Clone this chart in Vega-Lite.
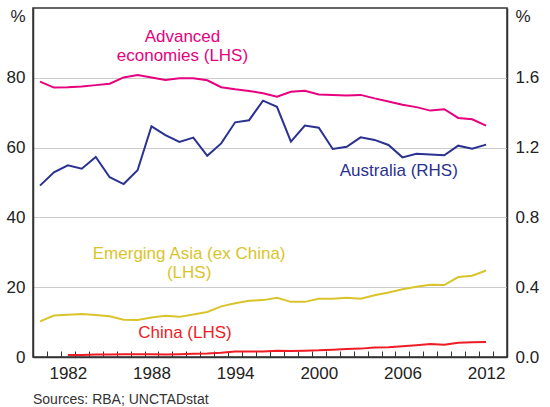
{
  "$schema": "https://vega.github.io/schema/vega-lite/v6.json",
  "width": 474,
  "height": 349,
  "autosize": {"type": "none"},
  "padding": {"left": 33, "top": 8, "right": 43, "bottom": 50},
  "background": "white",
  "config": {
    "font": "Liberation Sans",
    "view": {"stroke": "#333333", "strokeWidth": 1.5}
  },
  "title": {
    "text": "Sources: RBA; UNCTADstat",
    "orient": "bottom",
    "anchor": "start",
    "frame": "group",
    "fontSize": 14,
    "fontWeight": "normal",
    "color": "#333333",
    "offset": 12
  },
  "datasets": {
    "series": [
      {"year": 1980, "series": "Advanced economies", "value": 78.9},
      {"year": 1981, "series": "Advanced economies", "value": 77.2},
      {"year": 1982, "series": "Advanced economies", "value": 77.3},
      {"year": 1983, "series": "Advanced economies", "value": 77.5},
      {"year": 1984, "series": "Advanced economies", "value": 77.9},
      {"year": 1985, "series": "Advanced economies", "value": 78.3},
      {"year": 1986, "series": "Advanced economies", "value": 80.1},
      {"year": 1987, "series": "Advanced economies", "value": 80.8},
      {"year": 1988, "series": "Advanced economies", "value": 80.1},
      {"year": 1989, "series": "Advanced economies", "value": 79.4},
      {"year": 1990, "series": "Advanced economies", "value": 79.9},
      {"year": 1991, "series": "Advanced economies", "value": 79.9},
      {"year": 1992, "series": "Advanced economies", "value": 79.3},
      {"year": 1993, "series": "Advanced economies", "value": 77.3},
      {"year": 1994, "series": "Advanced economies", "value": 76.7},
      {"year": 1995, "series": "Advanced economies", "value": 76.2},
      {"year": 1996, "series": "Advanced economies", "value": 75.6},
      {"year": 1997, "series": "Advanced economies", "value": 74.6},
      {"year": 1998, "series": "Advanced economies", "value": 76.0},
      {"year": 1999, "series": "Advanced economies", "value": 76.3},
      {"year": 2000, "series": "Advanced economies", "value": 75.2},
      {"year": 2001, "series": "Advanced economies", "value": 75.1},
      {"year": 2002, "series": "Advanced economies", "value": 74.9},
      {"year": 2003, "series": "Advanced economies", "value": 75.1},
      {"year": 2004, "series": "Advanced economies", "value": 74.1},
      {"year": 2005, "series": "Advanced economies", "value": 73.2},
      {"year": 2006, "series": "Advanced economies", "value": 72.3},
      {"year": 2007, "series": "Advanced economies", "value": 71.6},
      {"year": 2008, "series": "Advanced economies", "value": 70.6},
      {"year": 2009, "series": "Advanced economies", "value": 71.0},
      {"year": 2010, "series": "Advanced economies", "value": 68.5},
      {"year": 2011, "series": "Advanced economies", "value": 68.1},
      {"year": 2012, "series": "Advanced economies", "value": 66.3},

      {"year": 1980, "series": "Emerging Asia (ex China)", "value": 10.2},
      {"year": 1981, "series": "Emerging Asia (ex China)", "value": 11.9},
      {"year": 1982, "series": "Emerging Asia (ex China)", "value": 12.1},
      {"year": 1983, "series": "Emerging Asia (ex China)", "value": 12.3},
      {"year": 1984, "series": "Emerging Asia (ex China)", "value": 12.0},
      {"year": 1985, "series": "Emerging Asia (ex China)", "value": 11.7},
      {"year": 1986, "series": "Emerging Asia (ex China)", "value": 10.7},
      {"year": 1987, "series": "Emerging Asia (ex China)", "value": 10.6},
      {"year": 1988, "series": "Emerging Asia (ex China)", "value": 11.3},
      {"year": 1989, "series": "Emerging Asia (ex China)", "value": 11.8},
      {"year": 1990, "series": "Emerging Asia (ex China)", "value": 11.5},
      {"year": 1991, "series": "Emerging Asia (ex China)", "value": 12.2},
      {"year": 1992, "series": "Emerging Asia (ex China)", "value": 12.9},
      {"year": 1993, "series": "Emerging Asia (ex China)", "value": 14.5},
      {"year": 1994, "series": "Emerging Asia (ex China)", "value": 15.4},
      {"year": 1995, "series": "Emerging Asia (ex China)", "value": 16.1},
      {"year": 1996, "series": "Emerging Asia (ex China)", "value": 16.3},
      {"year": 1997, "series": "Emerging Asia (ex China)", "value": 17.0},
      {"year": 1998, "series": "Emerging Asia (ex China)", "value": 15.8},
      {"year": 1999, "series": "Emerging Asia (ex China)", "value": 15.8},
      {"year": 2000, "series": "Emerging Asia (ex China)", "value": 16.7},
      {"year": 2001, "series": "Emerging Asia (ex China)", "value": 16.7},
      {"year": 2002, "series": "Emerging Asia (ex China)", "value": 17.0},
      {"year": 2003, "series": "Emerging Asia (ex China)", "value": 16.7},
      {"year": 2004, "series": "Emerging Asia (ex China)", "value": 17.7},
      {"year": 2005, "series": "Emerging Asia (ex China)", "value": 18.5},
      {"year": 2006, "series": "Emerging Asia (ex China)", "value": 19.4},
      {"year": 2007, "series": "Emerging Asia (ex China)", "value": 20.1},
      {"year": 2008, "series": "Emerging Asia (ex China)", "value": 20.7},
      {"year": 2009, "series": "Emerging Asia (ex China)", "value": 20.6},
      {"year": 2010, "series": "Emerging Asia (ex China)", "value": 22.9},
      {"year": 2011, "series": "Emerging Asia (ex China)", "value": 23.3},
      {"year": 2012, "series": "Emerging Asia (ex China)", "value": 24.8},

      {"year": 1982, "series": "China", "value": 0.6},
      {"year": 1983, "series": "China", "value": 0.6},
      {"year": 1984, "series": "China", "value": 0.7},
      {"year": 1985, "series": "China", "value": 0.7},
      {"year": 1986, "series": "China", "value": 0.8},
      {"year": 1987, "series": "China", "value": 0.8},
      {"year": 1988, "series": "China", "value": 0.8},
      {"year": 1989, "series": "China", "value": 0.7},
      {"year": 1990, "series": "China", "value": 0.8},
      {"year": 1991, "series": "China", "value": 0.9},
      {"year": 1992, "series": "China", "value": 1.0},
      {"year": 1993, "series": "China", "value": 1.2},
      {"year": 1994, "series": "China", "value": 1.6},
      {"year": 1995, "series": "China", "value": 1.6},
      {"year": 1996, "series": "China", "value": 1.6},
      {"year": 1997, "series": "China", "value": 1.8},
      {"year": 1998, "series": "China", "value": 1.7},
      {"year": 1999, "series": "China", "value": 1.8},
      {"year": 2000, "series": "China", "value": 1.9},
      {"year": 2001, "series": "China", "value": 2.1},
      {"year": 2002, "series": "China", "value": 2.3},
      {"year": 2003, "series": "China", "value": 2.4},
      {"year": 2004, "series": "China", "value": 2.7},
      {"year": 2005, "series": "China", "value": 2.8},
      {"year": 2006, "series": "China", "value": 3.1},
      {"year": 2007, "series": "China", "value": 3.4},
      {"year": 2008, "series": "China", "value": 3.7},
      {"year": 2009, "series": "China", "value": 3.5},
      {"year": 2010, "series": "China", "value": 4.1},
      {"year": 2011, "series": "China", "value": 4.2},
      {"year": 2012, "series": "China", "value": 4.3},

      {"year": 1980, "series": "Australia", "value": 0.982},
      {"year": 1981, "series": "Australia", "value": 1.058},
      {"year": 1982, "series": "Australia", "value": 1.098},
      {"year": 1983, "series": "Australia", "value": 1.079},
      {"year": 1984, "series": "Australia", "value": 1.146},
      {"year": 1985, "series": "Australia", "value": 1.030},
      {"year": 1986, "series": "Australia", "value": 0.991},
      {"year": 1987, "series": "Australia", "value": 1.070},
      {"year": 1988, "series": "Australia", "value": 1.322},
      {"year": 1989, "series": "Australia", "value": 1.272},
      {"year": 1990, "series": "Australia", "value": 1.232},
      {"year": 1991, "series": "Australia", "value": 1.257},
      {"year": 1992, "series": "Australia", "value": 1.153},
      {"year": 1993, "series": "Australia", "value": 1.224},
      {"year": 1994, "series": "Australia", "value": 1.345},
      {"year": 1995, "series": "Australia", "value": 1.357},
      {"year": 1996, "series": "Australia", "value": 1.469},
      {"year": 1997, "series": "Australia", "value": 1.434},
      {"year": 1998, "series": "Australia", "value": 1.234},
      {"year": 1999, "series": "Australia", "value": 1.326},
      {"year": 2000, "series": "Australia", "value": 1.314},
      {"year": 2001, "series": "Australia", "value": 1.192},
      {"year": 2002, "series": "Australia", "value": 1.205},
      {"year": 2003, "series": "Australia", "value": 1.259},
      {"year": 2004, "series": "Australia", "value": 1.244},
      {"year": 2005, "series": "Australia", "value": 1.215},
      {"year": 2006, "series": "Australia", "value": 1.144},
      {"year": 2007, "series": "Australia", "value": 1.165},
      {"year": 2008, "series": "Australia", "value": 1.160},
      {"year": 2009, "series": "Australia", "value": 1.156},
      {"year": 2010, "series": "Australia", "value": 1.211},
      {"year": 2011, "series": "Australia", "value": 1.194},
      {"year": 2012, "series": "Australia", "value": 1.217}
    ],
    "one": [{}]
  },
  "data": {"name": "series"},
  "layer": [
    {
      "layer": [
        {
          "transform": [{"filter": "datum.series != 'Australia'"}],
          "mark": {"type": "line", "strokeWidth": 2},
          "encoding": {
            "x": {
              "field": "year",
              "type": "quantitative",
              "scale": {"domain": [1979.5, 2013.5], "nice": false, "zero": false},
              "axis": {
                "orient": "bottom",
                "title": null,
                "values": [1982, 1988, 1994, 2000, 2006, 2012],
                "format": "d",
                "ticks": false,
                "labelFlush": false,
                "labelOverlap": false,
                "labelFontSize": 17,
                "labelColor": "#222222",
                "labelPadding": 8,
                "grid": false,
                "domainColor": "#333333",
                "domainWidth": 1.5
              }
            },
            "y": {
              "field": "value",
              "type": "quantitative",
              "scale": {"domain": [0, 100], "nice": false},
              "axis": {
                "orient": "left",
                "title": null,
                "values": [0, 20, 40, 60, 80, 100],
                "labelExpr": "datum.value == 100 ? '%' : datum.label",
                "labelBaseline": {"condition": {"test": "datum.value == 100", "value": "top"}, "value": "middle"},
                "labelFontSize": 17,
                "labelColor": "#222222",
                "labelPadding": 8,
                "tickSize": 0,
                "grid": true,
                "gridColor": "#cccccc",
                "gridWidth": 1,
                "gridOpacity": {"condition": {"test": "datum.value == 0 || datum.value == 100", "value": 0}, "value": 1},
                "domainColor": "#333333",
                "domainWidth": 1.5
              }
            },
            "color": {
              "field": "series",
              "type": "nominal",
              "scale": {
                "domain": ["Advanced economies", "Australia", "Emerging Asia (ex China)", "China"],
                "range": ["#e6007e", "#2b3191", "#d9c42c", "#ee1c25"]
              },
              "legend": null
            },
            "detail": {"field": "series"}
          }
        },
        {
          "data": {"name": "one"},
          "mark": {"type": "text", "fontSize": 17, "color": "#e6007e", "align": "center", "baseline": "alphabetic", "lineHeight": 19, "text": ["Advanced", "economies (LHS)"]},
          "encoding": {"x": {"datum": 1990.22, "type": "quantitative"}, "y": {"datum": 90.3, "type": "quantitative"}}
        },
        {
          "data": {"name": "one"},
          "mark": {"type": "text", "fontSize": 17, "color": "#2b3191", "align": "center", "baseline": "alphabetic", "text": "Australia (RHS)"},
          "encoding": {"x": {"datum": 2005.74, "type": "quantitative"}, "y": {"datum": 51.9, "type": "quantitative"}}
        },
        {
          "data": {"name": "one"},
          "mark": {"type": "text", "fontSize": 17, "color": "#d9c42c", "align": "center", "baseline": "alphabetic", "lineHeight": 19, "text": ["Emerging Asia (ex China)", "(LHS)"]},
          "encoding": {"x": {"datum": 1990.7, "type": "quantitative"}, "y": {"datum": 28.0, "type": "quantitative"}}
        },
        {
          "data": {"name": "one"},
          "mark": {"type": "text", "fontSize": 17, "color": "#ee1c25", "align": "center", "baseline": "alphabetic", "text": "China (LHS)"},
          "encoding": {"x": {"datum": 1990.4, "type": "quantitative"}, "y": {"datum": 5.4, "type": "quantitative"}}
        }
      ]
    },
    {
      "transform": [{"filter": "datum.series == 'Australia'"}],
      "mark": {"type": "line", "strokeWidth": 2},
      "encoding": {
        "x": {
          "field": "year",
          "type": "quantitative",
          "axis": {
            "orient": "top",
            "offset": -349,
            "title": null,
            "values": [1980.5, 1981.5, 1982.5, 1983.5, 1984.5, 1985.5, 1986.5, 1987.5, 1988.5, 1989.5, 1990.5, 1991.5, 1992.5, 1993.5, 1994.5, 1995.5, 1996.5, 1997.5, 1998.5, 1999.5, 2000.5, 2001.5, 2002.5, 2003.5, 2004.5, 2005.5, 2006.5, 2007.5, 2008.5, 2009.5, 2010.5, 2011.5, 2012.5],
            "labels": false,
            "domain": false,
            "grid": false,
            "ticks": true,
            "tickSize": 6,
            "tickColor": "#333333",
            "tickWidth": 1
          }
        },
        "y": {
          "field": "value",
          "type": "quantitative",
          "scale": {"domain": [0, 2], "nice": false},
          "axis": {
            "orient": "right",
            "title": null,
            "values": [0, 0.4, 0.8, 1.2, 1.6, 2],
            "labelExpr": "datum.value == 2 ? '%' : format(datum.value, '.1f')",
            "labelBaseline": {"condition": {"test": "datum.value == 2", "value": "top"}, "value": "middle"},
            "labelFontSize": 17,
            "labelColor": "#222222",
            "labelPadding": 8,
            "tickSize": 0,
            "grid": false,
            "domainColor": "#333333",
            "domainWidth": 1.5
          }
        },
        "color": {"field": "series", "type": "nominal", "legend": null}
      }
    }
  ],
  "resolve": {"scale": {"y": "independent"}, "axis": {"x": "independent"}}
}
